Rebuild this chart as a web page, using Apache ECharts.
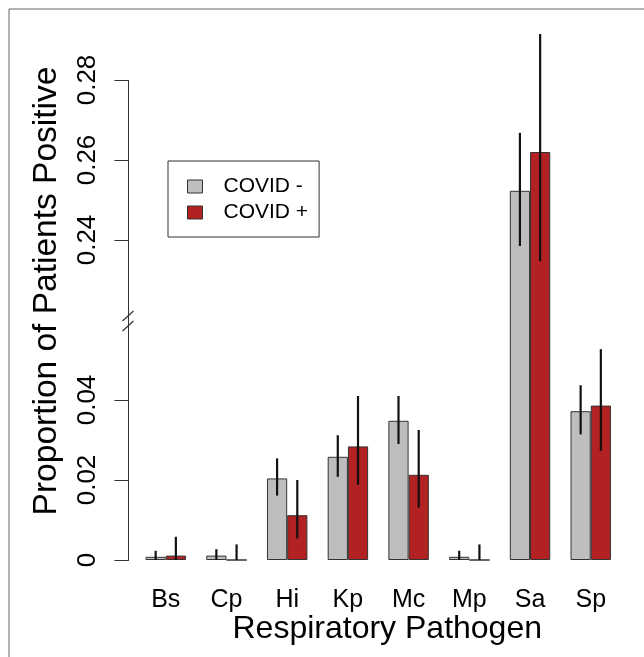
<!DOCTYPE html>
<html>
<head>
<meta charset="utf-8">
<script src="https://cdn.jsdelivr.net/npm/echarts@6/dist/echarts.min.js"></script>
<style>
  html, body { margin: 0; padding: 0; background: #fff; }
  #chart { width: 644px; height: 657px; }
</style>
</head>
<body>
<div id="chart"></div>
<script>
  // 病原体分类
  var categories = ['Bs', 'Cp', 'Hi', 'Kp', 'Mc', 'Mp', 'Sa', 'Sp'];
  // COVID - 阳性比例及误差范围
  var covidNeg = [0.0008, 0.0011, 0.0204, 0.0258, 0.0348, 0.0008, 0.2523, 0.0372];
  var covidNegLow = [0, 0, 0.0161, 0.0208, 0.0290, 0, 0.2385, 0.0314];
  var covidNegHigh = [0.0023, 0.0027, 0.0254, 0.0312, 0.0410, 0.0023, 0.2668, 0.0437];
  // COVID + 阳性比例及误差范围
  var covidPos = [0.0011, 0, 0.0112, 0.0284, 0.0213, 0, 0.2620, 0.0386];
  var covidPosLow = [0, 0, 0.0054, 0.0188, 0.0131, 0, 0.2347, 0.0273];
  var covidPosHigh = [0.0058, 0.0039, 0.0200, 0.0410, 0.0325, 0.0039, 0.2915, 0.0527];
  // 断轴范围（0.06 ~ 0.22 省略）和刻度
  var yBreak = [0.06, 0.22];
  var yTicks = [0, 0.02, 0.04, 0.24, 0.26, 0.28];

  var font = 'Liberation Sans, Arial, Helvetica, sans-serif';
  var gapRatio = 0.334;

  function errData(low, high) {
    var arr = [];
    for (var i = 0; i < low.length; i++) {
      arr.push([i, low[i], high[i]]);
    }
    return arr;
  }

  // 误差线 side: -1 左柱, 1 右柱
  function errorBar(side) {
    return function(params, api) {
      var i = api.value(0);
      var bandW = api.size([1, 0])[0];
      var dx = side * bandW * (1 - gapRatio) / 4;
      var p1 = api.coord([i, api.value(1)]);
      var p2 = api.coord([i, api.value(2)]);
      return {
        type: 'line',
        shape: { x1: p1[0] + dx, y1: p1[1], x2: p2[0] + dx, y2: p2[1] },
        style: { stroke: '#111', lineWidth: 2.2 }
      };
    };
  }

  function barCfg(name, data, color) {
    return {
      name: name,
      type: 'bar',
      data: data,
      barGap: 0,
      barCategoryGap: (gapRatio * 100) + '%',
      itemStyle: { color: color, borderColor: '#333', borderWidth: 1 },
      emphasis: { disabled: true }
    };
  }

  function errCfg(low, high, side) {
    return {
      type: 'custom',
      clip: false,
      renderItem: errorBar(side),
      encode: { x: 0, y: [1, 2] },
      data: errData(low, high),
      silent: true,
      z: 5
    };
  }

  var node = document.getElementById('chart');
  var chart = echarts.init(node);
  var option = {
    backgroundColor: '#fff',
    animation: false,
    textStyle: { fontFamily: font },
    grid: { left: 135.4, right: 22.9, top: 80, height: 480 },
    xAxis: {
      type: 'category',
      data: categories,
      axisLine: { show: false },
      axisTick: { show: false },
      axisLabel: { margin: 28, color: '#000', fontSize: 25, fontFamily: font },
      name: 'Respiratory Pathogen',
      nameLocation: 'middle',
      nameGap: 53,
      nameMoveOverlap: false,
      nameTextStyle: { color: '#000', fontSize: 32, fontFamily: font, padding: [0, 0, 0, 18] }
    },
    yAxis: {
      type: 'value',
      min: 0,
      max: 0.28,
      breaks: [{ start: yBreak[0], end: yBreak[1], gap: 0 }],
      breakArea: { show: false },
      offset: 7,
      axisLine: { show: true, lineStyle: { color: '#333', width: 1 } },
      axisTick: { show: true, length: 14, customValues: yTicks, lineStyle: { color: '#333' } },
      axisLabel: {
        customValues: yTicks,
        rotate: 90,
        align: 'center',
        verticalAlign: 'bottom',
        margin: 28,
        color: '#000',
        fontSize: 26,
        fontFamily: font,
        formatter: function(v) { return v === 0 ? '0' : v.toFixed(2); }
      },
      splitLine: { show: false }
    },
    legend: {
      orient: 'vertical',
      left: 168,
      top: 161,
      data: ['COVID -', 'COVID +'],
      icon: 'rect',
      itemWidth: 15,
      itemHeight: 13,
      itemGap: 5,
      padding: [15, 11, 14, 19],
      borderColor: '#333',
      borderWidth: 1,
      selectedMode: false,
      itemStyle: { borderColor: '#333', borderWidth: 1 },
      textStyle: { color: '#000', fontSize: 21, fontFamily: font, lineHeight: 21, padding: [0, 0, 0, 16] }
    },
    graphic: [{
      // 外框
      type: 'rect',
      shape: { x: 9, y: 9, width: 700, height: 700 },
      style: { fill: 'none', stroke: '#666', lineWidth: 1 },
      silent: true
    }, {
      type: 'text',
      x: 47,
      y: 291,
      rotation: Math.PI / 2,
      style: {
        text: 'Proportion of Patients Positive',
        fill: '#000',
        fontSize: 33.5,
        fontFamily: font,
        align: 'center',
        verticalAlign: 'middle'
      }
    }, {
      // 断轴符号
      type: 'line',
      shape: { x1: 122.5, y1: 321, x2: 133.5, y2: 311 },
      style: { stroke: '#333', lineWidth: 1.2 }
    }, {
      type: 'line',
      shape: { x1: 122.5, y1: 331, x2: 133.5, y2: 321 },
      style: { stroke: '#333', lineWidth: 1.2 }
    }],
    series: [
      barCfg('COVID -', covidNeg, '#bebebe'),
      barCfg('COVID +', covidPos, '#b22222'),
      errCfg(covidNegLow, covidNegHigh, -1),
      errCfg(covidPosLow, covidPosHigh, 1)
    ]
  };
  chart.setOption(option);
</script>
</body>
</html>
